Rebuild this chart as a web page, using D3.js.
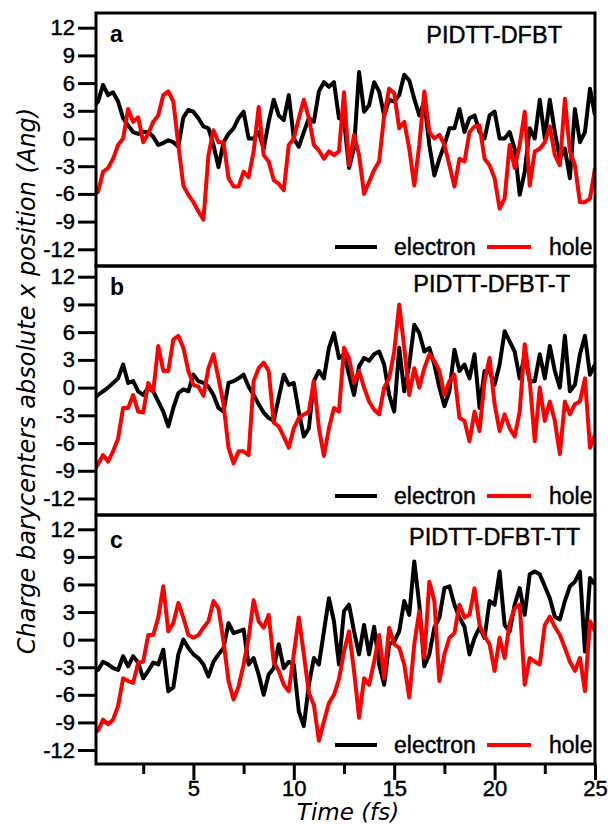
<!DOCTYPE html>
<html>
<head>
<meta charset="utf-8">
<script src="https://cdn.jsdelivr.net/npm/d3@7"></script>
<style>
  body { margin: 0; background: #fff; }
  svg { display: block; }
</style>
</head>
<body>
<svg id="chart" width="608" height="824"></svg>
<script>
// sample times (fs), one value every 0.25 fs
const time = d3.range(0, 25.001, 0.25);

const aElectron = [
  3.4, 4.0, 5.8, 4.7,   5.0, 4.0, 2.2, 1.4,   0.7, 0.5, 0.7, 0.7,   0.2, -0.7, -0.5, -0.2,
  -0.4, -0.9, 2.3, 3.1, 2.9, 2.2, 1.3, 1.1,   -0.7, -3.1, -0.4, 0.5, 1.1, 2.2, 2.9, 0,
  0, 0.7, -1.1, 1.8,    4.2, 2.5, 2.0, 4.7,   0, -0.9, 0.7, 2.2,    1.8, 5.1, 6.1, 5.6,
  6.1, 2.2, 2.0, -3.2,  -1.0, 7.2, 2.9, 3.6,  6.1, 5.1, 2.5, 4.2,   4.0, 4.7, 6.9, 6.3,
  4.3, 2.5, 4.0, -0.7,  -4.0, -2.2, -0.7, 1.1, 1.1, 3.2, 0.7, 2.2, 2.5, 0.7, 0, 2.5,
  2.9, 0, 0, 0.7,       -1.1, -6.1, -3.6, 1.1, 0, 4.2, 0, 4.2,    0.7, -2.2, -1.1, -4.3,
  3.2, -0.4, 0.7, 5.4,  2.5
];
const aHole = [
  -6.1, -5.8, -3.6, -3.2, -2.2, -0.7, 0, 3.2,   1.8, 2.3, -0.4, 0.5,   1.8, 2.5, 4.7, 5.1,
  4.0, -0.7, -5.1, -6.1,  -6.9, -7.9, -8.8, -1.8, 0.9, -0.4, -0.4, -4.3, -5.2, -5.2, -3.6, -4.2,
  -1.4, 3.4, -1.8, -2.5,  -4.5, -4.9, -5.6, -0.7, 0, 2.2, 4.2, 2.2,    -0.7, -1.3, -2.2, -1.4,
  -1.8, -1.4, 5.0, -2.9,  0.4, -1.8, -6.0, -4.7,  -3.4, -2.5, 2.5, 5.4,  4.9, 1.1, 1.8, -1.1,
  -5.1, -0.7, 5.1, 0.7,   0, 0.4, -0.7, -2.9,     -5.2, -2.2, -2.5, 0.7, 1.3, 1.4, -2.2, -2.9,
  -4.3, -7.6, -6.5, -0.7, -3.2, -0.7, 2.9, -5.1,  -1.4, -1.1, -0.4, 1.3, -1.8, -2.9, 4.3, -1.4,
  -2.9, -6.9, -6.9, -6.5, -3.2
];
const bElectron = [
  -1.3, -0.8, -0.4, 0,  0.5, 1.0, 2.5, 0.5,   0.7, -0.4, -0.8, 0,   -0.4, -1.5, -2.6, -4.2,
  -2.2, -0.6, -0.2, -0.4, 1.4, 0.7, 0.5, 0.1, -0.8, -2.2, -2.6, 0.5, 0.7, 1.0, 1.4, 0.1,
  -0.8, -1.8, -2.7, -3.3, -3.6, -1.1, 1.4, 0.3, 0.5, -2.6, -5.3, -4.4, 0.7, 1.8, 1.0, 4.3,
  5.9, 3.2, 3.6, 1.4,   -0.8, 2.3, 3.2, 2.9,  3.6, 3.9, 2.5, -0.8,  -2.6, 4.3, -0.4, 2.5,
  6.8, 5.9, 3.9, 4.3,   2.5, 0, -2.0, -0.4,   4.1, 1.8, 2.5, 1.0,   3.6, -2.2, 1.8, 1.8,
  0.3, 2.5, 6.1, 5.0,   3.9, 1.0, 3.6, 0.7,   0.7, 3.6, 1.0, 4.5,   1.8, 0, 5.6, -0.4,
  0.3, 3.6, 5.6, 1.4,   2.5
];
const bHole = [
  -9.1, -8.3, -7.3, -8.0, -6.9, -5.5, -2.2, -2.2, -0.8, -2.6, -2.7, 0.5, -0.4, 4.5, 1.8, 1.8,
  5.2, 5.6, 4.3, 1.8,     0.3, 0.1, -0.9, 2.1,    3.6, 1.0, -1.8, -6.5, -8.2, -6.9, -6.9, -7.3,
  0.7, 2.1, 2.7, 1.8,     -3.8, -4.2, -5.3, -6.5, -4.4, -3.3, -2.9, -2.6, 0.7, -4.4, -7.4, -4.4,
  -2.2, -2.6, 4.3, 3.2,   0.5, 1.8, 0, -1.5,      -2.4, -2.9, 0, 1.0,    3.9, 9.0, 4.3, -0.8,
  2.1, 0, 2.1, 3.6,       2.9, 1.8, -0.8, 0.7,    1.4, -3.3, -3.6, -5.8, -2.6, -4.7, 0.7, 3.2,
  -1.8, -4.7, -2.9, -4.4, -5.3, -2.6, 4.7, 0.7,   -5.8, 0, -3.6, -1.5,   -3.6, -7.2, -1.5, -2.9,
  -1.8, -1.5, 1.0, -6.5,  -5.1
];
const cElectron = [
  -3.4, -3.3, -2.4, -2.7, -3.1, -3.3, -1.8, -2.9, -1.8, -2.5, -4.2, -3.4, -2.5, -2.7, -1.1, -5.6,
  -5.2, -1.6, 0, -0.9,    -1.6, -2.0, -2.7, -4.0, -2.4, -1.6, -0.9, 1.8,  0.7, 0.9, 1.1, -2.7,
  -2.0, -3.8, -6.0, -3.8, -3.1, -0.5, -3.1, -2.4, -2.7, -7.8, -9.4, -4.9, -2.0, -2.7, 0.9, 4.5,
  2.0, -2.7, 3.1, 3.8,    0.9, -1.6, 1.6, -1.6,   1.4, -2.7, -4.9, -0.5,  -0.2, 0.9, 4.2, 2.7,
  8.5, 3.8, -2.9, -1.6,   1.3, 2.4, 5.6, 5.8,     3.8, 2.4, 1.4, -1.6,    0.2, 1.3, 0.2, 4.2,
  3.8, 7.4, 1.6, 0.9,     3.8, 5.6, 2.7, 7.1,     7.4, 7.1, 5.8, 4.5,     2.5, 2.2, 4.2, 5.8,
  6.3, 7.4, -1.3, 6.7,    6.0
];
const cHole = [
  -10.1, -9.9, -8.7, -9.2, -8.7, -7.2, -4.2, -4.5, -4.7, -2.5, -2.4, 0.5, 0.5, 2.4, 5.8, 0.9,
  1.8, 4.0, 2.4, 0.5,      0.2, 0.5, 1.3, 2.0,     4.2, 3.4, -0.2, -4.5,  -6.5, -5.1, -2.7, 0.2,
  4.3, 2.0, 1.3, 2.7,      -2.4, -3.4, -4.9, -5.6, -1.6, 2.4, -1.6, -5.8, -7.1, -11.0, -8.9, -6.9,
  -6.0, -4.3, -1.3, 0.9,   -3.4, -8.5, -4.2, -4.9, -2.4, 0.5, -4.2, 1.3,  -0.5, -0.9, -2.7, -6.3,
  -0.5, 3.1, -2.0, 6.3,    4.2, -4.5, -1.6, 0.2,   0.7, 3.8, 2.4, 2.7,    5.6, 1.6, 0.4, -0.5,
  -3.4, 0.2, -2.0, 1.8,    3.4, 3.8, -4.9, -2.0,   -2.4, -2.7, 1.6, 2.5,  1.4, 0.5, -0.9, -2.4,
  -3.4, -2.0, -5.6, 2.0,   0.9
];

const panelLabels = ['a', 'b', 'c'];
const panelTitles = ['PIDTT-DFBT', 'PIDTT-DFBT-T', 'PIDTT-DFBT-TT'];
const electronSeries = [aElectron, bElectron, cElectron];
const holeSeries = [aHole, bHole, cHole];
const seriesNames = ['electron', 'hole'];
const seriesColors = ['#000000', '#ff0000'];
const yTicks = [-12, -9, -6, -3, 0, 3, 6, 9, 12];
const xMajor = [5, 10, 15, 20, 25];
const xMinor = [2.5, 7.5, 12.5, 17.5, 22.5];

// layout
const left = 96, right = 595;
const boxes = [
  { top: 13,  bottom: 266, y12: 27.7,  yM12: 249.3, labelY: 42,  titleX: 562, titleY: 43 },
  { top: 266, bottom: 515, y12: 276.7, yM12: 498.5, labelY: 295, titleX: 570, titleY: 292 },
  { top: 515, bottom: 764, y12: 529.3, yM12: 750,   labelY: 548, titleX: 580, titleY: 545 }
];
const sans = "'Liberation Sans', Arial, Helvetica, sans-serif";
const oblique = "'DejaVu Sans', Verdana, sans-serif";

const svg = d3.select('#chart');
const x = d3.scaleLinear().domain([0, 25]).range([93, 595]);

// slightly heavier text, like the original
function heavy(sel) {
  sel.attr('fill', '#000').attr('stroke', '#000').attr('stroke-width', 0.45);
}

boxes.forEach((b, i) => {
  const y = d3.scaleLinear().domain([-12, 12]).range([b.yM12, b.y12]);
  const g = svg.append('g').attr('class', 'panel');

  g.append('clipPath').attr('id', 'clip' + i)
    .append('rect')
    .attr('x', left).attr('y', b.top)
    .attr('width', right - left).attr('height', b.bottom - b.top);

  const line = d3.line()
    .x((d, j) => x(time[j]))
    .y(d => y(d));

  [electronSeries[i], holeSeries[i]].forEach((s, k) => {
    g.append('path')
      .datum(s)
      .attr('clip-path', `url(#clip${i})`)
      .attr('fill', 'none')
      .attr('stroke', seriesColors[k])
      .attr('stroke-width', 4)
      .attr('stroke-linejoin', 'round')
      .attr('d', line);
  });

  // frame
  g.append('rect')
    .attr('x', left).attr('y', b.top)
    .attr('width', right - left).attr('height', b.bottom - b.top)
    .attr('fill', 'none').attr('stroke', '#000').attr('stroke-width', 3);

  // y axis
  const yAxis = d3.axisLeft(y).tickValues(yTicks).tickSize(18).tickPadding(3).tickFormat(d3.format('d'));
  const ya = g.append('g').attr('transform', `translate(${left},0)`).call(yAxis);
  ya.select('.domain').remove();
  ya.selectAll('.tick line').attr('stroke-width', 3);
  ya.selectAll('.tick text')
    .attr('font-family', sans).attr('font-size', 22)
    .text(d => d < 0 ? '-' + Math.abs(d) : d)
    .call(heavy);

  // panel letter and title
  g.append('text').attr('x', 110).attr('y', b.labelY)
    .attr('font-family', sans).attr('font-size', 23).attr('font-weight', 'bold')
    .text(panelLabels[i]);
  g.append('text').attr('x', b.titleX).attr('y', b.titleY)
    .attr('text-anchor', 'end')
    .attr('font-family', sans).attr('font-size', 23.5)
    .text(panelTitles[i])
    .call(heavy);

  // legend
  const ly = b.bottom - 19;
  const legendX = [[335, 377, 394], [487, 531, 549]];
  seriesNames.forEach((name, k) => {
    g.append('line')
      .attr('x1', legendX[k][0]).attr('x2', legendX[k][1])
      .attr('y1', ly).attr('y2', ly)
      .attr('stroke', seriesColors[k]).attr('stroke-width', 4);
    g.append('text')
      .attr('x', legendX[k][2]).attr('y', b.bottom - 11)
      .attr('font-family', sans).attr('font-size', 23)
      .text(name)
      .call(heavy);
  });

  // x axis only on the last panel
  if (i === boxes.length - 1) {
    const xa = g.append('g').attr('transform', `translate(0,${b.bottom})`)
      .call(d3.axisBottom(x).tickValues(xMajor).tickSize(16).tickPadding(0).tickFormat(d3.format('d')));
    xa.select('.domain').remove();
    xa.selectAll('.tick line').attr('stroke-width', 3);
    xa.selectAll('.tick text').attr('font-family', sans).attr('font-size', 22).call(heavy);

    const xm = g.append('g').attr('transform', `translate(0,${b.bottom})`)
      .call(d3.axisBottom(x).tickValues(xMinor).tickSize(10).tickFormat(''));
    xm.select('.domain').remove();
    xm.selectAll('.tick line').attr('stroke-width', 3);
  }
});

// axis titles
svg.append('text')
  .attr('x', 348).attr('y', 820)
  .attr('text-anchor', 'middle')
  .attr('font-family', oblique).attr('font-style', 'italic').attr('font-size', 23)
  .text('Time (fs)');

svg.append('text')
  .attr('transform', 'translate(35,381) rotate(-90)')
  .attr('text-anchor', 'middle')
  .attr('font-family', oblique).attr('font-style', 'italic').attr('font-size', 24)
  .text('Charge barycenters absolute x position (Ang)');
</script>
</body>
</html>
